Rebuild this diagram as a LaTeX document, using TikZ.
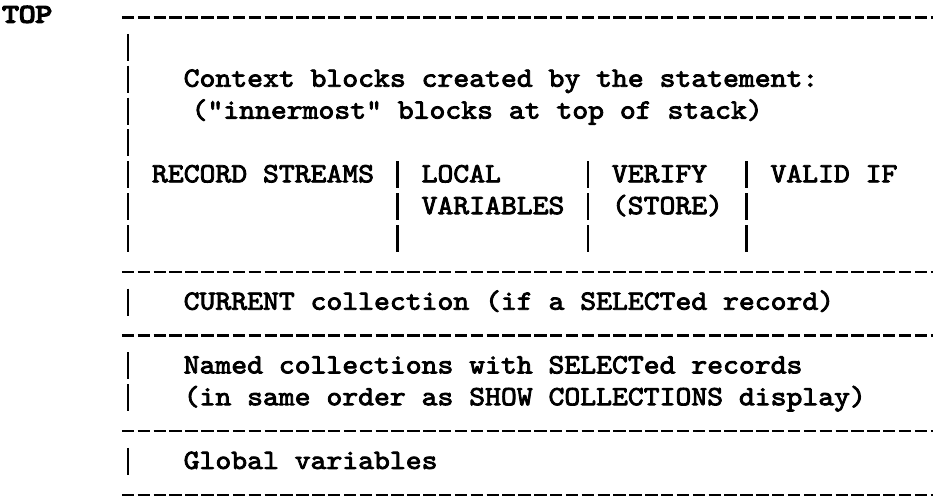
\documentclass[tikz,border=0pt]{standalone}
\usepackage{fontspec}
\newfontfamily\tw{lmmono10-regular.otf}[FakeBold=3, FakeStretch=1.087]
\newfontfamily\twb{lmmono10-regular.otf}[FakeBold=6, FakeStretch=1.2]
\begin{document}
\begin{tikzpicture}[x=1pt,y=-1pt,
  txt/.style={font=\tw\fontsize{27.8}{32}\selectfont, anchor=base west, inner sep=0pt,
              text height=17pt, text depth=5pt, text=black},
  toptxt/.style={font=\twb\fontsize{26.5}{32}\selectfont, anchor=base west, inner sep=0pt,
              text height=16pt, text depth=3pt, text=black},
  hrule/.style={line width=2.4pt, dash pattern=on 12.4pt off 3.46pt},
  vbar/.style={line width=2.3pt, dash pattern=on 27pt off 4.85pt}]
\useasboundingbox (0,0) rectangle (933,497);
% horizontal dashed rules
\draw[hrule] (121.8,17.5) -- (940,17.5);
\draw[hrule] (121.8,271.8) -- (940,271.8);
\draw[hrule] (121.8,335.5) -- (940,335.5);
\draw[hrule] (121.8,431.1) -- (940,431.1);
\draw[hrule] (121.8,494.8) -- (940,494.8);
% vertical bars
\draw[vbar] (128,33.9) -- (128,252);
\draw[vbar] (397.6,161.3) -- (397.6,252);
\draw[vbar] (588,161.3) -- (588,252);
\draw[vbar] (746.5,161.3) -- (746.5,252);
\draw[vbar] (128,288.7) -- (128,315.7);
\draw[vbar] (128,352.4) -- (128,411.2);
\draw[vbar] (128,447.9) -- (128,474.9);
% texts
\node[toptxt] (top) at (2,22.5) {TOP};
\node[txt] (ctx1) at (183.5,86.7) {Context blocks created by the statement:};
\node[txt] (ctx2) at (191.4,118.6) {("innermost" blocks at top of stack)};
\node[txt] (rs) at (151.8,182.3) {RECORD STREAMS};
\node[txt] (loc) at (421.4,182.3) {LOCAL};
\node[txt] (vars) at (421.4,214.1) {VARIABLES};
\node[txt] (ver) at (611.7,182.3) {VERIFY};
\node[txt] (sto) at (611.7,214.1) {(STORE)};
\node[txt] (val) at (770.3,182.3) {VALID IF};
\node[txt] (cur) at (183.5,309.7) {CURRENT collection (if a SELECTed record)};
\node[txt] (nam1) at (183.5,373.4) {Named collections with SELECTed records};
\node[txt] (nam2) at (183.5,405.2) {(in same order as SHOW COLLECTIONS display)};
\node[txt] (glob) at (183.5,468.9) {Global variables};
\end{tikzpicture}
\end{document}
